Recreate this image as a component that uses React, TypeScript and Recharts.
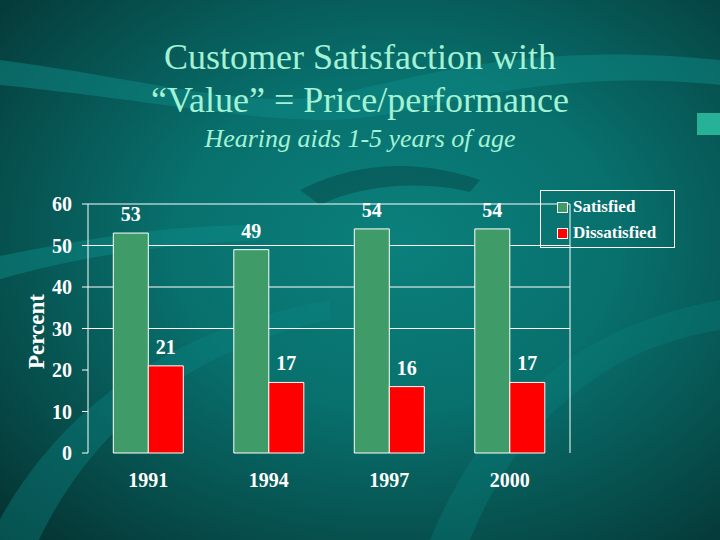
import { BarChart, Bar, XAxis, YAxis, CartesianGrid, LabelList } from "recharts"

const years = ["1991", "1994", "1997", "2000"]
const satisfied = [53, 49, 54, 54]
const dissatisfied = [21, 17, 16, 17]
const yTicks = [0, 10, 20, 30, 40, 50, 60]
const gridValues = [30, 40, 50, 60]
// separadores entre categorías (bordes de cada año)
const categoryEdges = [0, 1, 2, 3, 4]

const datos = years.map((year, i) => ({
  year,
  satisfied: satisfied[i],
  dissatisfied: dissatisfied[i],
}))

const serif = "'Liberation Serif', 'Times New Roman', serif"
const GREEN = "#3f9b68"
const RED = "#ff0000"

function LegendBox() {
  const items = [
    { label: "Satisfied", color: GREEN },
    { label: "Dissatisfied", color: RED },
  ]
  return (
    <div
      style={{
        position: "absolute",
        left: 540,
        top: 190,
        border: "1px solid #ffffff",
        width: 135,
        height: 58,
        boxSizing: "border-box",
        padding: "3px 0 0 16px",
        fontFamily: serif,
        fontWeight: "bold",
        fontSize: 17,
        color: "#ffffff",
      }}
    >
      {items.map((it) => (
        <div key={it.label} style={{ display: "flex", alignItems: "center", height: 26 }}>
          <span
            style={{
              display: "inline-block",
              width: 9,
              height: 9,
              background: it.color,
              border: "1px solid #ffffff",
              marginRight: 5,
            }}
          />
          {it.label}
        </div>
      ))}
    </div>
  )
}

function Fondo() {
  // Remolinos decorativos del fondo
  return (
    <svg width={720} height={540} style={{ position: "absolute", left: 0, top: 0 }}>
      <path d="M0 60 C 150 80, 250 110, 330 95 S 520 40, 720 60 L 720 85 C 520 65, 420 120, 330 120 S 150 100, 0 85 Z" fill="#0d8a86" opacity={0.5} />
      <path d="M-20 260 C 80 240, 160 225, 260 225 L 260 240 C 160 245, 80 255, -20 285 Z" fill="#0e8e8a" opacity={0.45} />
      <path d="M-20 560 C 40 420, 160 330, 330 300 L 330 320 C 180 350, 80 440, 30 560 Z" fill="#0b8581" opacity={0.4} />
      <path d="M300 190 C 360 160, 420 160, 480 180 L 470 192 C 420 180, 360 185, 320 205 Z" fill="#053c3b" opacity={0.4} />
      <path d="M430 540 C 480 420, 560 330, 720 300 L 720 330 C 590 350, 510 440, 470 540 Z" fill="#0a807c" opacity={0.35} />
      <rect x={697} y={113} width={23} height={22} fill="#2fc8a8" opacity={0.8} />
    </svg>
  )
}

export default function App() {
  return (
    <div
      style={{
        position: "absolute",
        left: 0,
        top: 0,
        width: 720,
        height: 540,
        overflow: "hidden",
        background: "radial-gradient(ellipse at 55% 45%, #0b807c 0%, #08706d 40%, #064c4a 75%, #04302f 100%)",
      }}
    >
      <Fondo />
      <div
        style={{
          position: "absolute",
          left: 0,
          top: 36,
          width: 720,
          textAlign: "center",
          fontFamily: serif,
          color: "#a3f2d4",
          fontSize: 36,
          lineHeight: "43px",
        }}
      >
        <div>Customer Satisfaction with</div>
        <div>“Value” = Price/performance</div>
        <div style={{ fontStyle: "italic", fontSize: 26, lineHeight: "34px" }}>Hearing aids 1-5 years of age</div>
      </div>
      <div style={{ position: "absolute", left: 0, top: 0 }}>
        <BarChart
          width={720}
          height={540}
          data={datos}
          margin={{ top: 204, right: 149, left: 0, bottom: 57 }}
          barCategoryGap="21%"
          barGap={0}
        >
          <CartesianGrid
            yAxisId="left"
            vertical={false}
            horizontalValues={gridValues}
            stroke="#ffffff"
            strokeWidth={1}
          />
          <XAxis
            xAxisId="edges"
            type="number"
            domain={[0, 4]}
            ticks={categoryEdges}
            height={0}
            axisLine={{ stroke: "#ffffff" }}
            tickLine={{ stroke: "#ffffff" }}
            tickSize={5}
            tick={false}
          />
          <XAxis
            dataKey="year"
            height={30}
            axisLine={false}
            tickLine={false}
            tick={{ fill: "#ffffff", fontFamily: serif, fontWeight: "bold", fontSize: 20 }}
            dy={12}
          />
          <YAxis
            yAxisId="left"
            width={88}
            domain={[0, 60]}
            ticks={yTicks}
            axisLine={{ stroke: "#ffffff" }}
            tickLine={{ stroke: "#ffffff" }}
            tickSize={6}
            dx={-8}
            tick={{ fill: "#ffffff", fontFamily: serif, fontWeight: "bold", fontSize: 20 }}
            label={{
              content: (props: any) => {
                const vb = props.viewBox || { x: 0, y: 0, height: 0 }
                const cy = vb.y + vb.height / 2 + 3
                return (
                  <text
                    x={36}
                    y={cy}
                    transform={`rotate(-90 36 ${cy})`}
                    textAnchor="middle"
                    dominantBaseline="central"
                    fill="#ffffff"
                    fontFamily={serif}
                    fontWeight="bold"
                    fontSize={23}
                  >
                    Percent
                  </text>
                )
              },
            }}
          />
          <YAxis
            yAxisId="right"
            orientation="right"
            width={1}
            domain={[0, 60]}
            ticks={yTicks}
            axisLine={{ stroke: "#ffffff" }}
            tick={false}
            tickLine={false}
          />
          <Bar yAxisId="left" dataKey="satisfied" name="Satisfied" fill={GREEN} stroke="#ffffff" strokeWidth={1} isAnimationActive={false}>
            <LabelList dataKey="satisfied" position="top" offset={12} fill="#ffffff" fontFamily={serif} fontWeight="bold" fontSize={20} />
          </Bar>
          <Bar yAxisId="left" dataKey="dissatisfied" name="Dissatisfied" fill={RED} stroke="#ffffff" strokeWidth={1} isAnimationActive={false}>
            <LabelList dataKey="dissatisfied" position="top" offset={12} fill="#ffffff" fontFamily={serif} fontWeight="bold" fontSize={20} />
          </Bar>
        </BarChart>
      </div>
      <LegendBox />
    </div>
  )
}
